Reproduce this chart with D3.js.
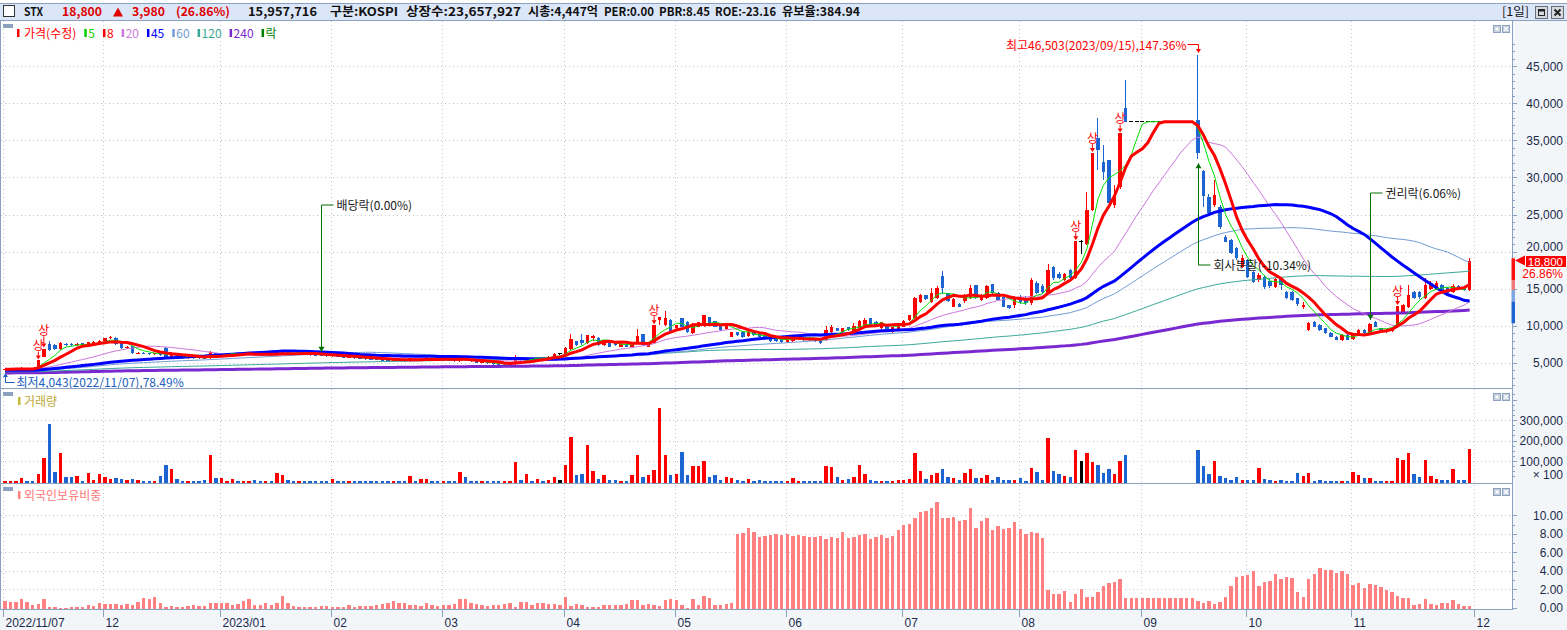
<!DOCTYPE html>
<html>
<head>
<meta charset="utf-8">
<script src="https://cdn.jsdelivr.net/npm/d3@7"></script>
<style>
  body { margin: 0; background: #fff; }
  svg { display: block; }
  .num { font-family: 'Liberation Sans', Arial, sans-serif; font-size: 12px; fill: #1b2b4b; }
  .kr { font-family: 'Noto Sans CJK KR', sans-serif; font-size: 12px; }
</style>
</head>
<body>
<script>
// ---- daily bars, 2022/11/07 .. 2023/11/30 (adjusted prices, won) ----
var opens = [
  4080,4150,4180,4200,4300,4180,4150,5850,7500,7400,6900,7600,7550,7400,7650,7300,7700,7550,
  7900,8350,8400,7650,6950,7270,6300,6400,6350,6200,6300,7000,5850,6300,5950,5700,5800,5750,5700,5600,6300,
  6000,6100,6150,6300,6150,6200,6300,6100,6050,6150,6050,6400,6500,6300,6200,6250,6150,6100,6050,6000,
  5900,5950,5850,5750,5800,5700,5600,5550,5500,5450,5400,5350,5450,5350,5300,5550,5450,5550,5650,5500,
  5400,5450,5350,5300,5700,5400,5200,5050,5100,4950,4800,4700,4750,4800,5700,5400,5700,5600,5750,5650,5850,6250,
  6200,6900,7950,8100,7700,8400,8400,7450,7770,7650,7200,7600,7200,7770,8850,7200,7700,10780,10100,10780,
  9700,11000,10550,9000,9900,10100,11200,10600,10110,9600,8530,9100,9200,8650,9100,9100,8750,8530,8300,8300,
  7850,7950,8250,8530,8300,8300,8300,8090,9200,9650,9200,9880,9210,9660,9880,11000,10550,9750,10200,9150,9450,
  9900,10800,11010,13250,14100,13250,13700,16750,14400,12600,13000,13350,13700,15500,13500,13700,15590,14450,13900,12800,12800,
  13900,13700,13100,15730,15300,14420,17900,17000,16200,17500,16500,21400,21020,25600,35270,32120,32350,26280,28750,39310,37500,37500,
  37500,37500,37500,37500,37500,37500,37500,37500,37500,37500,37740,30800,27300,26300,26050,22000,21560,20440,17970,
  18870,17300,16170,16620,16000,15270,16400,14600,14600,13700,12600,9500,10550,10100,9660,9000,8530,8100,8800,
  8200,8950,9500,9000,10550,9660,9200,9300,9800,11680,12570,14600,14500,13700,15000,14900,15500,15100,14600,15400,15200,14830
];
var highs = [
  4200,4250,4280,4400,4320,4220,5330,6930,7900,7500,7800,7700,7650,7700,7700,7850,7900,8100,
  8400,8600,8450,7700,7250,7300,6500,6450,6400,6350,6350,7100,6450,6350,6000,5850,5850,5800,5750,6600,6350,
  6250,6300,6400,6350,6250,6300,6350,6150,6200,6200,6600,6700,6550,6350,6300,6300,6200,6150,6100,6050,
  6050,6000,5900,5850,5850,5750,5650,5600,5550,5500,5450,5500,5500,5400,5700,5600,5650,5750,5700,5550,
  5500,5500,5400,6000,5750,5450,5250,5150,5150,5000,4850,4800,4850,6100,5750,5800,5750,5850,5800,5900,6300,6350,
  7100,8850,8000,8850,8800,8760,8450,8100,7800,7700,7650,7650,7850,9570,8900,7800,10070,11230,12000,10850,
  10150,11100,10600,10330,10550,11450,11250,10650,10150,10330,9210,9150,9250,9250,9150,9150,8800,8600,8350,8350,
  8550,8700,8700,8600,8450,8350,8350,10020,10100,9700,9750,9900,10330,10780,11100,11050,10600,10550,10250,9900,10330,
  10780,11450,13920,14240,14150,15050,15400,17380,14450,13700,13100,14240,15500,15550,14240,15500,15650,14500,14100,12850,13950,
  14200,14000,16400,16000,15600,18350,18000,17200,17100,17600,21385,21560,28070,33280,37970,34400,32400,28970,35920,43130,37500,37500,
  37500,37500,37500,37500,37500,37500,37500,37500,37500,37500,46503,31000,27800,29650,26300,22200,21700,20600,19540,
  19000,17400,17070,16900,16300,16400,16620,14700,14700,13800,13250,10550,10600,10200,9700,9100,8600,8900,8850,
  9000,9550,9600,10400,10600,9700,9520,9900,12670,12900,15500,14700,14700,16400,16000,16100,15600,15200,15700,15500,15300,19200
];
var lows = [
  4043,4100,4150,4180,4150,4080,4120,5800,6700,6750,6850,7350,7300,7350,7250,7250,7650,7500,
  7850,8250,7450,6950,6900,6250,6250,6200,6150,6100,6050,5800,5800,5850,5650,5650,5650,5600,5550,5550,6000,
  5950,6050,6100,6100,6100,6150,6050,6000,6000,6000,6000,6350,6250,6150,6150,6100,6050,6000,5950,5900,
  5850,5800,5700,5700,5650,5550,5500,5450,5400,5350,5300,5300,5300,5250,5250,5400,5400,5500,5450,5350,
  5350,5300,5250,5250,5350,5150,5000,5000,4900,4750,4650,4650,4700,4750,5350,5350,5550,5550,5600,5600,5800,6150,
  6150,6850,7300,7500,7650,8000,7400,7400,7180,7300,7150,7150,7150,7700,7300,7150,7650,10200,10050,9300,
  9650,9850,9100,8990,9850,9880,10300,9880,9430,9550,8500,8650,8400,8600,8750,8500,8400,7950,7950,7770,
  7800,7900,8200,8050,8050,7900,7640,8050,9100,9300,9150,9430,9150,9600,9850,10100,9880,9700,9210,9100,9400,
  9850,10750,11000,13200,13500,13200,13650,14380,13300,12570,12550,13100,13650,13700,13450,13650,14380,13450,12550,12350,12500,
  13000,12900,12900,14380,14400,14350,16300,16400,16100,16150,16400,19800,20900,25500,31000,29700,26100,26000,28500,37500,37500,37500,
  37500,37500,37500,37500,37500,37500,37500,37500,37500,37500,32570,26100,24800,26100,23100,21300,19700,19000,17900,
  16500,15900,15950,15050,15200,15200,14830,13700,13400,12800,12350,9430,9880,9430,8990,8530,8090,8050,8090,
  8150,8800,8900,8950,9880,9400,9100,9250,9750,11600,12500,13700,13700,13650,14950,14850,14500,14300,14500,14850,14800,14820
];
var closes = [
  4150,4200,4230,4300,4180,4100,5330,6930,6800,6900,7650,7450,7400,7600,7300,7750,7800,8000,
  8330,8480,7500,7020,7150,6310,6400,6300,6250,6300,6100,5850,6300,5900,5700,5800,5700,5650,5600,6450,6050,
  6150,6200,6300,6150,6200,6250,6100,6050,6150,6050,6450,6550,6300,6200,6250,6150,6100,6050,6000,5950,
  6000,5850,5750,5800,5700,5600,5550,5500,5450,5400,5350,5450,5350,5300,5600,5450,5550,5650,5500,5400,
  5450,5350,5300,5800,5400,5200,5050,5100,4950,4800,4700,4750,4800,5800,5400,5700,5600,5750,5650,5800,6200,6250,
  7000,8200,7350,7650,8700,8650,7450,8050,7200,7350,7600,7200,7800,8650,7350,7750,10070,11200,11000,9350,
  10100,9900,9150,10300,10500,11400,10350,9900,9450,10300,9200,8700,8450,9200,8800,8550,8420,7980,8000,7800,
  8500,8650,8650,8100,8200,8000,7700,9430,9800,9350,9700,9450,10000,10600,10780,10150,9900,10500,9250,9850,10300,
  10700,11400,13700,14200,13550,14400,15050,15050,13400,13600,12600,14150,15050,13750,14200,15400,14400,13500,12600,12400,13700,
  13200,13100,16200,14450,14600,17500,16400,16500,17000,16450,21385,21400,25600,33280,33690,30770,26510,27630,35920,37500,37500,37500,
  37500,37500,37500,37500,37500,37500,37500,37500,37500,37500,33300,27450,25200,27600,23350,21350,19770,19100,19100,
  16620,15950,16850,15270,15400,16300,15500,13800,13500,12900,12800,10400,9900,9450,9000,8550,8100,8800,8150,
  8950,9500,9000,10200,9900,9430,9480,9750,12670,12800,14150,13800,13900,15500,15700,15800,14600,14400,15400,14950,14820,18800
];
// volume, in thousands of the axis unit (axis is x100 shares)
var volK = [
  1,1,4,17,4,1,38,116,282,48,141,22,22,27,4,43,7,37,
  22,12,17,12,7,12,7,4,4,1,27,80,61,12,2,1,1,1,7,129,17,
  17,4,12,2,1,1,7,1,2,1,43,32,7,2,1,1,1,1,1,1,
  12,1,1,1,1,1,1,1,1,1,1,1,1,1,27,1,12,12,2,1,
  1,1,1,48,22,2,1,1,1,1,1,1,1,97,7,38,2,12,1,7,22,7,
  80,218,32,37,178,53,12,32,7,7,2,2,32,129,22,32,56,360,129,32,
  37,146,32,76,76,100,22,32,7,22,17,7,2,12,2,7,1,2,1,1,
  1,17,2,1,1,1,1,76,72,22,7,12,22,80,37,7,2,2,2,1,7,
  7,12,141,51,12,32,42,61,22,17,7,42,61,17,17,32,7,22,7,7,7,
  17,2,66,46,7,212,51,37,27,22,154,100,141,95,80,42,61,37,100,129,0,0,
  0,0,0,0,0,0,0,0,0,0,154,76,37,100,27,17,7,22,7,
  7,7,66,12,7,2,7,2,2,42,27,42,2,7,2,2,2,2,2,
  46,32,17,17,2,1,1,1,115,105,139,37,22,105,27,12,7,7,61,7,7,159.6
];
// foreign ownership, %
var foreignPct = [
  0.77,0.63,0.63,0.95,0.63,0.34,0.41,0.95,0.09,0.09,0.02,0.02,0.09,0.09,0.09,0.30,0.20,0.56,
  0.45,0.41,0.38,0.34,0.45,0.34,0.67,1.06,0.95,1.17,0.52,0.09,0.20,0.09,0.09,0.23,0.30,0.20,0.20,0.52,0.52,
  0.52,0.52,0.30,0.41,0.74,0.95,0.30,0.30,0.52,0.30,0.52,1.28,0.52,0.20,0.09,0.09,0.09,0.09,0.20,0.20,
  0.09,0.09,0.09,0.30,0.09,0.20,0.20,0.20,0.30,0.41,0.52,0.74,0.52,0.52,0.30,0.30,0.20,0.52,0.30,0.20,
  0.30,0.30,0.41,0.95,0.95,0.52,0.41,0.30,0.20,0.30,0.30,0.41,0.52,0.09,0.63,0.63,0.30,0.52,0.52,0.41,0.41,0.30,
  1.17,0.20,0.41,0.30,0.09,0.09,0.09,0.30,0.30,0.30,0.30,0.41,0.85,0.85,0.30,0.41,0.30,0.20,0.85,0.95,
  0.85,0.30,0.02,0.95,0.30,1.28,1.06,0.30,0.30,0.41,0.52,7.98,8.05,8.63,8.20,7.66,7.77,7.87,7.98,7.87,
  7.98,7.77,7.87,7.77,7.66,7.66,7.77,7.44,7.66,7.55,8.20,7.55,7.66,7.87,7.98,7.44,7.66,7.87,7.55,7.77,8.41,
  8.95,9.06,9.71,10.32,10.47,10.79,11.44,9.71,9.71,9.82,9.39,9.50,10.79,8.63,9.39,9.71,8.41,8.85,8.52,8.63,9.28,
  8.52,7.98,8.20,8.09,7.55,1.93,1.50,1.50,1.82,0.63,1.50,2.04,1.17,1.17,1.71,2.36,2.68,2.79,3.12,1.06,1.06,1.06,
  1.06,1.06,1.06,1.06,1.06,1.06,1.06,1.06,1.06,1.06,0.74,0.52,0.74,0.41,0.63,1.17,2.36,3.33,3.44,
  3.55,3.98,2.36,2.79,2.90,3.66,3.12,3.33,3.23,1.71,1.17,3.12,3.66,4.31,4.09,4.09,3.77,3.98,3.66,
  2.47,2.68,2.14,2.58,2.47,2.25,1.93,1.71,1.28,1.06,1.06,0.30,0.41,0.95,0.41,0.30,0.52,0.52,0.85,0.41,0.20,0.20
];

// first bar of each month, and its label
var monthTickIdx = [0, 18, 39, 59, 79, 101, 121, 141, 162, 183, 205, 224, 243, 265];
var monthTickLabels = ['2022/11/07', '12', '2023/01', '02', '03', '04', '05', '06', '07', '08', '09', '10', '11', '12'];

var maPeriods = [5, 8, 20, 45, 60, 120, 240];
var maSeeds = [4150, 4150, 4100, 4000, 3900, 3800, 3650]; // average level before the first bar
var priceTicks = [5000, 10000, 15000, 20000, 25000, 30000, 35000, 40000, 45000];
var volTicks = [100, 200, 300];
var foreignTicks = [0, 2, 4, 6, 8, 10];

var legendNames = ['가격(수정)', '5', '8', '20', '45', '60', '120', '240', '락'];
var eventIdx = [57, 215, 246];
var eventNames = ['배당락(0.00%)', '회사분할(-10.34%)', '권리락(6.06%)'];
var highLabel = '최고46,503(2023/09/15),147.36%';
var lowLabel = '최저4,043(2022/11/07),78.49%';
var headerItems = ['STX', '18,800', '3,980', '(26.86%)', '15,957,716', '구분:KOSPI', '상장수:23,657,927',
  '시총:4,447억', 'PER:0.00', 'PBR:8.45', 'ROE:-23.16', '유보율:384.94'];
var lastChange = '26.86%';
var rangeBand = [19100, 16170, 14820, 13250, 10340];

// ---- styles ----
var RED = '#ff0000', BLUE = '#1c64d2', GRID = '#c4c8ce', FRAME = '#8ca0c0';
var maColors = ['#00e000', '#ff0000', '#cc77dd', '#0000ff', '#6f9bd2', '#3aa898', '#7a28d0'];
var maWidths = [1, 3, 1, 3, 1, 1, 3];
var legendColors = ['#ff0000', '#00d000', '#ff0000', '#cc77dd', '#0000ff', '#6f9bd2', '#3aa898', '#7a28d0', '#008000'];
var headerX = [24, 62, 132, 176, 248, 330, 406, 528, 604, 659, 715, 782];
var headerW = [19, 40, 33, 54, 69, 68, 115, 70, 50, 51, 61, 78];
var headerRed = [false, true, true, true, false, false, false, false, false, false, false, false];
var eventLabelY = [205, 265, 193];
var eventDir = ['down', 'up', 'down'];
var bandColors = ['#ff1010', '#f07878', '#7ea6e0', '#1c64d2'];

var N = closes.length;
var W = 1567, H = 630, PR = 1512;

var x = d3.scaleLinear().domain([0, N - 1]).range([5, 5 + (N - 1) * 5.548]);
var yP = d3.scaleLinear().domain([0, 50000]).range([400, 29]);
var yV = d3.scaleLinear().domain([0, 300]).range([481.5, 420]);
var yF = d3.scaleLinear().domain([0, 10]).range([607.8, 515.3]);

function movingAvg(period, seed) {
  var out = [], sum = 0;
  for (var i = 0; i < N; i++) {
    sum += closes[i];
    if (i >= period) sum -= closes[i - period];
    var n = Math.min(i + 1, period);
    out.push((sum + (period - n) * seed) / period);
  }
  return out;
}
function colorOf(i) {
  if (closes[i] > opens[i]) return RED;
  if (closes[i] < opens[i]) return BLUE;
  return '#000';
}

var svg = d3.select('body').append('svg').attr('width', W).attr('height', H);
var defs = svg.append('defs');
function clip(id, y0, h) {
  defs.append('clipPath').attr('id', id).append('rect')
    .attr('x', 1).attr('y', y0).attr('width', PR - 1).attr('height', h);
}
clip('cp', 21, 367);
clip('cv', 389, 94);
clip('cf', 484, 125);

// backgrounds
svg.append('rect').attr('width', W).attr('height', H).attr('fill', '#fff');
svg.append('rect').attr('x', PR + 1).attr('y', 21).attr('width', W - PR - 1).attr('height', 589).attr('fill', '#f3f6f9');
svg.append('rect').attr('x', 0).attr('y', 610).attr('width', W).attr('height', 20).attr('fill', '#f3f6f9');
svg.append('rect').attr('x', 0).attr('y', 3).attr('width', W).attr('height', 17).attr('fill', '#dbe6f8');
svg.append('line').attr('x1', 0).attr('x2', W).attr('y1', 3.5).attr('y2', 3.5).attr('stroke', FRAME);
svg.append('line').attr('x1', 0).attr('x2', W).attr('y1', 20.5).attr('y2', 20.5).attr('stroke', FRAME);

// grid
var grid = svg.append('g').attr('stroke', GRID).attr('stroke-dasharray', '1,3');
monthTickIdx.forEach(function (m) {
  var xt = Math.round(x(m) - 1.7) + 0.5;
  grid.append('line').attr('x1', xt).attr('x2', xt).attr('y1', 21).attr('y2', 610);
});
priceTicks.forEach(function (t) {
  var yy = Math.round(yP(t)) + 0.5;
  grid.append('line').attr('x1', 1).attr('x2', PR).attr('y1', yy).attr('y2', yy);
});
volTicks.forEach(function (t) {
  var yy = Math.round(yV(t)) + 0.5;
  grid.append('line').attr('x1', 1).attr('x2', PR).attr('y1', yy).attr('y2', yy);
});
foreignTicks.slice(1).forEach(function (t) {
  var yy = Math.round(yF(t)) + 0.5;
  grid.append('line').attr('x1', 1).attr('x2', PR).attr('y1', yy).attr('y2', yy);
});

// ---- price panel ----
var pg = svg.append('g').attr('clip-path', 'url(#cp)');
var candles = pg.append('g').attr('shape-rendering', 'crispEdges');
d3.range(N).forEach(function (i) {
  var cx = x(i), col = colorOf(i);
  candles.append('line').attr('x1', cx).attr('x2', cx)
    .attr('y1', yP(highs[i])).attr('y2', yP(lows[i]) + 0.5).attr('stroke', col);
  if (opens[i] === closes[i]) {
    candles.append('line').attr('x1', cx - 2).attr('x2', cx + 2)
      .attr('y1', yP(closes[i])).attr('y2', yP(closes[i])).attr('stroke', col);
  } else {
    var top = yP(Math.max(opens[i], closes[i])), bot = yP(Math.min(opens[i], closes[i]));
    candles.append('rect').attr('x', cx - 1.7).attr('width', 3.4)
      .attr('y', top).attr('height', Math.max(1, bot - top)).attr('fill', col);
  }
});

var maLine = d3.line().x(function (d, i) { return x(i); }).y(function (d) { return yP(d); });
var order = [6, 5, 4, 2, 3, 0, 1];
order.forEach(function (k) {
  pg.append('path').datum(movingAvg(maPeriods[k], maSeeds[k]))
    .attr('d', maLine).attr('fill', 'none')
    .attr('stroke', maColors[k]).attr('stroke-width', maWidths[k]);
});

// upper-limit markers (stacked upward when two are close together)
var ann = svg.append('g');
var placed = [];
d3.range(1, N).filter(function (i) { return closes[i] >= closes[i - 1] * 1.295; }).forEach(function (i) {
  var cx = x(i), top = yP(highs[i]), base = top - 10;
  placed.forEach(function (p) {
    if (Math.abs(p.x - cx) < 12 && Math.abs(p.y - base) < 15) base = Math.min(base, p.y - 15);
  });
  placed.push({ x: cx, y: base });
  ann.append('text').attr('class', 'kr').attr('x', cx).attr('y', base)
    .attr('text-anchor', 'middle').attr('font-size', 10).attr('fill', RED).text('상');
  ann.append('line').attr('x1', cx).attr('x2', cx).attr('y1', base + 1).attr('y2', top - 4).attr('stroke', RED);
  ann.append('path').attr('d', 'M' + (cx - 2.5) + ',' + (top - 5) + 'L' + (cx + 2.5) + ',' + (top - 5) + 'L' + cx + ',' + (top - 1) + 'Z').attr('fill', RED);
});

// corporate events
eventIdx.forEach(function (ei, k) {
  var cx = Math.round(x(ei)) + 0.5, ly = eventLabelY[k], g = ann.append('g');
  var tip = eventDir[k] === 'down' ? yP(highs[ei]) - 3 : yP(lows[ei]) + 5;
  g.append('path').attr('d', 'M' + (cx + 12) + ',' + ly + 'H' + cx + 'V' + tip)
    .attr('fill', 'none').attr('stroke', '#007000');
  var s = eventDir[k] === 'down' ? -1 : 1;
  g.append('path').attr('d', 'M' + (cx - 3) + ',' + (tip + s * 5) + 'L' + (cx + 3) + ',' + (tip + s * 5) + 'L' + cx + ',' + tip + 'Z')
    .attr('fill', '#007000');
  g.append('text').attr('class', 'kr').attr('x', cx + 15).attr('y', ly + 4.5)
    .attr('fill', '#1a1a1a').text(eventNames[k]);
});

// high / low labels
var iMax = d3.maxIndex(highs), iMin = d3.minIndex(lows);
var hx = Math.round(x(iMax)) + 0.5;
ann.append('text').attr('class', 'kr').attr('x', hx - 12).attr('y', 50)
  .attr('text-anchor', 'end').attr('fill', RED).text(highLabel);
ann.append('path').attr('d', 'M' + (hx - 11) + ',44.5H' + hx + 'V' + (yP(highs[iMax]) - 3))
  .attr('fill', 'none').attr('stroke', RED);
ann.append('path').attr('d', 'M' + (hx - 2.5) + ',' + (yP(highs[iMax]) - 6) + 'L' + (hx + 2.5) + ',' + (yP(highs[iMax]) - 6) + 'L' + hx + ',' + (yP(highs[iMax]) - 2) + 'Z').attr('fill', RED);
var lx = Math.round(x(iMin)) + 0.5;
ann.append('path').attr('d', 'M' + (lx + 9) + ',382.5H' + lx + 'V375').attr('fill', 'none').attr('stroke', '#2060c0');
ann.append('path').attr('d', 'M' + (lx - 2.5) + ',377L' + (lx + 2.5) + ',377L' + lx + ',373Z').attr('fill', '#2060c0');
ann.append('text').attr('class', 'kr').attr('x', lx + 11).attr('y', 386.5).attr('fill', '#2060c0').text(lowLabel);

// ---- volume panel ----
var vg = svg.append('g').attr('clip-path', 'url(#cv)').attr('shape-rendering', 'crispEdges');
d3.range(N).forEach(function (i) {
  if (volK[i] <= 0) return;
  var top = Math.min(yV(volK[i]), 482);
  vg.append('rect').attr('x', x(i) - 1.7).attr('width', 3.4)
    .attr('y', top).attr('height', 483 - top).attr('fill', colorOf(i));
});

// ---- foreign ownership panel ----
var fg = svg.append('g').attr('clip-path', 'url(#cf)').attr('shape-rendering', 'crispEdges');
d3.range(N).forEach(function (i) {
  var top = Math.min(yF(foreignPct[i]), 608);
  fg.append('rect').attr('x', x(i) - 1.7).attr('width', 3.4)
    .attr('y', top).attr('height', 609.5 - top).attr('fill', '#ff8080');
});

// frames
var fr = svg.append('g').attr('stroke', FRAME).attr('shape-rendering', 'crispEdges');
fr.append('line').attr('x1', 0.5).attr('x2', 0.5).attr('y1', 21).attr('y2', 610);
fr.append('line').attr('x1', PR + 0.5).attr('x2', PR + 0.5).attr('y1', 21).attr('y2', 610);
[388.5, 483.5, 609.5].forEach(function (yy) {
  fr.append('line').attr('x1', 0).attr('x2', PR).attr('y1', yy).attr('y2', yy).attr('stroke-width', yy > 600 ? 1 : 1.5);
});

// ---- right axes ----
var ax = svg.append('g');
var axT = ax.append('g').attr('stroke', FRAME).attr('shape-rendering', 'crispEdges');
var ly0 = yP(closes[N - 1]);
d3.range(2000, 49000, 1000).forEach(function (v) {
  var yy = Math.round(yP(v)) + 0.5;
  axT.append('line').attr('x1', PR + 1).attr('x2', PR + (v % 5000 === 0 ? 5 : 3)).attr('y1', yy).attr('y2', yy);
});
priceTicks.forEach(function (t) {
  var ty = yP(t) + 4.5;
  // labels just above the last-price box are lifted clear of it
  if (ty > ly0 - 10 && ty < ly0) ty = ly0 - 10;
  ax.append('text').attr('class', 'num').attr('x', 1563).attr('y', ty).attr('text-anchor', 'end')
    .text(d3.format(',')(t));
});
d3.range(25, 450, 25).forEach(function (v) {
  var yy = Math.round(yV(v)) + 0.5;
  if (yy < 391) return;
  axT.append('line').attr('x1', PR + 1).attr('x2', PR + (v % 100 === 0 ? 5 : 3)).attr('y1', yy).attr('y2', yy);
});
volTicks.forEach(function (t) {
  ax.append('text').attr('class', 'num').attr('x', 1563).attr('y', yV(t) + 4.5).attr('text-anchor', 'end')
    .text(d3.format(',')(t * 1000));
});
ax.append('text').attr('class', 'num').attr('x', 1563).attr('y', 479).attr('text-anchor', 'end').text('× 100');
d3.range(0, 11, 1).forEach(function (v) {
  var yy = Math.round(yF(v)) + 0.5;
  axT.append('line').attr('x1', PR + 1).attr('x2', PR + (v % 2 === 0 ? 5 : 3)).attr('y1', yy).attr('y2', yy);
});
foreignTicks.forEach(function (t) {
  ax.append('text').attr('class', 'num').attr('x', 1563).attr('y', yF(t) + 4.5).attr('text-anchor', 'end')
    .text(d3.format('.2f')(t));
});

// range band and last-price marker
d3.range(rangeBand.length - 1).forEach(function (k) {
  ax.append('rect').attr('x', PR - 0.5).attr('width', 3.5)
    .attr('y', yP(rangeBand[k])).attr('height', yP(rangeBand[k + 1]) - yP(rangeBand[k])).attr('fill', bandColors[k]);
});
ax.append('path').attr('d', 'M1515,' + ly0 + 'L1525,' + (ly0 - 5) + 'L1525,' + (ly0 + 5) + 'Z').attr('fill', RED);
ax.append('rect').attr('x', 1526).attr('y', ly0 - 4.5).attr('width', 40).attr('height', 11).attr('fill', RED);
ax.append('text').attr('class', 'num').attr('x', 1563).attr('y', ly0 + 5).attr('text-anchor', 'end')
  .style('fill', '#fff').style('font-size', '11.5px').text(d3.format(',')(closes[N - 1]));
ax.append('rect').attr('x', 1526).attr('y', ly0 + 6.5).attr('width', 40).attr('height', 12).attr('fill', '#fff');
ax.append('text').attr('class', 'num').attr('x', 1563).attr('y', ly0 + 17).attr('text-anchor', 'end')
  .style('fill', RED).text(lastChange);

// ---- x axis ----
monthTickIdx.forEach(function (m, k) {
  var xt = Math.round(x(m) - 1.7) + 0.5;
  ax.append('line').attr('x1', xt).attr('x2', xt).attr('y1', 610).attr('y2', 617).attr('stroke', FRAME);
  ax.append('text').attr('class', 'num').attr('x', xt + 2).attr('y', 626.5).text(monthTickLabels[k]);
});

// ---- header ----
var hd = svg.append('g');
hd.append('rect').attr('x', 3.5).attr('y', 5.5).attr('width', 11).attr('height', 11).attr('fill', '#fff').attr('stroke', '#333');
headerItems.forEach(function (t, k) {
  hd.append('text').attr('class', 'kr').attr('x', headerX[k]).attr('y', 16)
    .attr('font-weight', 'bold').attr('textLength', headerW[k]).attr('lengthAdjust', 'spacingAndGlyphs')
    .attr('fill', headerRed[k] ? '#e00000' : '#111').text(t);
});
hd.append('path').attr('d', 'M113,16.5L118,7.5L123,16.5Z').attr('fill', '#e00000');
hd.append('text').attr('class', 'kr').attr('x', 1502).attr('y', 16).attr('textLength', 27)
  .attr('lengthAdjust', 'spacingAndGlyphs').attr('fill', '#111').text('[1일]');
[1535, 1551].forEach(function (bx, k) {
  hd.append('rect').attr('x', bx + 0.5).attr('y', 6.5).attr('width', 12).attr('height', 12)
    .attr('fill', '#d6dae0').attr('stroke', '#6a6e76');
  if (k === 0) {
    hd.append('rect').attr('x', bx + 3.5).attr('y', 9.5).attr('width', 6).attr('height', 6).attr('fill', 'none').attr('stroke', '#222');
    hd.append('rect').attr('x', bx + 3.5).attr('y', 9.5).attr('width', 6).attr('height', 2).attr('fill', '#222');
  } else {
    hd.append('path').attr('d', 'M' + (bx + 3.5) + ',9.5L' + (bx + 9.5) + ',15.5M' + (bx + 9.5) + ',9.5L' + (bx + 3.5) + ',15.5')
      .attr('stroke', '#222').attr('stroke-width', 2);
  }
});

// panel corner widgets
[24, 392, 487].forEach(function (yy) {
  svg.append('rect').attr('x', 3).attr('y', yy).attr('width', 10).attr('height', 4).attr('fill', FRAME);
  svg.append('rect').attr('x', 1493.5).attr('y', yy + 1.5).attr('width', 7).attr('height', 7).attr('fill', '#c4cedd').attr('stroke', FRAME);
  svg.append('rect').attr('x', 1495.5).attr('y', yy + 3.5).attr('width', 3).attr('height', 3).attr('fill', '#fff');
  svg.append('rect').attr('x', 1502.5).attr('y', yy + 1.5).attr('width', 7).attr('height', 7).attr('fill', '#c4cedd').attr('stroke', FRAME);
  svg.append('path').attr('d', 'M1504,' + (yy + 3) + 'L1508,' + (yy + 7) + 'M1508,' + (yy + 3) + 'L1504,' + (yy + 7))
    .attr('stroke', '#fff').attr('stroke-width', 1.2);
});

// legends
var lg = svg.append('g');
var cur = 17;
legendNames.forEach(function (name, k) {
  lg.append('rect').attr('x', cur).attr('y', 29).attr('width', 2.5).attr('height', 8).attr('fill', legendColors[k]);
  var t = lg.append('text').attr('class', 'kr').attr('x', cur + (k === 0 ? 7 : 4)).attr('y', 37.5)
    .attr('fill', legendColors[k]).text(name);
  cur += (k === 0 ? 7 : 4) + t.node().getComputedTextLength() + 8;
});
lg.append('rect').attr('x', 18).attr('y', 397).attr('width', 2.5).attr('height', 8).attr('fill', '#c8b838');
lg.append('text').attr('class', 'kr').attr('x', 24).attr('y', 405.5).attr('fill', '#bca832').text('거래량');
lg.append('rect').attr('x', 18).attr('y', 491).attr('width', 2.5).attr('height', 8).attr('fill', '#ff8080');
lg.append('text').attr('class', 'kr').attr('x', 24).attr('y', 499.5).attr('fill', '#ff7878').text('외국인보유비중');
</script>
</body>
</html>
